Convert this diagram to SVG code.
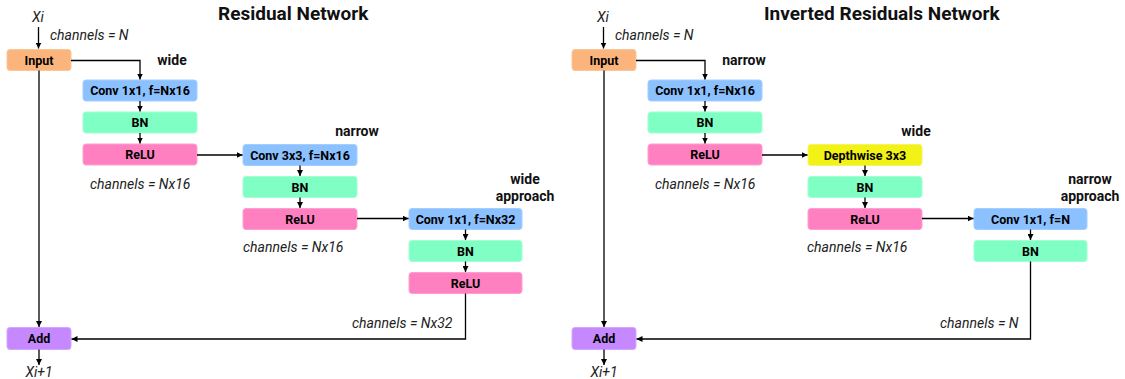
<svg xmlns="http://www.w3.org/2000/svg" width="1125" height="379" viewBox="0 0 1125 379">
  <defs>
    <marker id="arrow" viewBox="0 0 10 10" refX="10" refY="5" markerWidth="6" markerHeight="6" markerUnits="userSpaceOnUse" orient="auto">
      <path d="M0,0 L10,5 L0,10 z" fill="#000"/>
    </marker>
    <style>
      .box { stroke-width: 1; }
      .input { fill: #FBB57C; stroke: #F9C79A; }
      .conv { fill: #8BC1FF; stroke: #A3CEFF; }
      .bn { fill: #80FFC4; stroke: #A0FFD3; }
      .relu { fill: #FF80C0; stroke: #FF9FCF; }
      .dw { fill: #F2F216; stroke: #F5F560; }
      .add { fill: #C588FF; stroke: #D4A6FF; }
      .lbl { font-family: Roboto, "Liberation Sans", sans-serif; font-weight: bold; font-size: 12.5px; fill: #000; text-anchor: middle; }
      .note { font-family: Roboto, "Liberation Sans", sans-serif; font-style: italic; font-size: 14px; fill: #222; }
      .tag { font-family: Roboto, "Liberation Sans", sans-serif; font-weight: bold; font-size: 14px; fill: #111; text-anchor: middle; }
      .title { font-family: Roboto, "Liberation Sans", sans-serif; font-weight: bold; font-size: 19px; fill: #111; }
      .wire { fill: none; stroke: #000; stroke-width: 1.3; marker-end: url(#arrow); }
    </style>
  </defs>
  <rect width="1125" height="379" fill="#fff"/>

  <!-- Residual Network -->
  <text class="title" x="218" y="20">Residual Network</text>
  <text class="note" x="38" y="22" text-anchor="middle">Xi</text>
  <text class="note" x="50" y="40">channels = N</text>
  <text class="tag" x="172" y="65">wide</text>
  <text class="note" x="90" y="189">channels = Nx16</text>
  <text class="tag" x="357" y="136">narrow</text>
  <text class="note" x="243" y="252">channels = Nx16</text>
  <text class="tag" x="525" y="184">wide</text>
  <text class="tag" x="525" y="201">approach</text>
  <text class="note" x="352" y="328">channels = Nx32</text>
  <text class="note" x="39" y="377" text-anchor="middle">Xi+1</text>

  <g id="res-input"><rect class="box input" x="7" y="49.5" width="64" height="21" rx="3"/><text class="lbl" x="39" y="64.5">Input</text></g>
  <g id="res-conv1"><rect class="box conv" x="83" y="80" width="114" height="21" rx="3"/><text class="lbl" x="140" y="95">Conv 1x1, f=Nx16</text></g>
  <g id="res-bn1"><rect class="box bn" x="83" y="112" width="114" height="21" rx="3"/><text class="lbl" x="140" y="127">BN</text></g>
  <g id="res-relu1"><rect class="box relu" x="83" y="144" width="114" height="21" rx="3"/><text class="lbl" x="140" y="159">ReLU</text></g>
  <g id="res-conv2"><rect class="box conv" x="243" y="144.5" width="114" height="21" rx="3"/><text class="lbl" x="300" y="159.5">Conv 3x3, f=Nx16</text></g>
  <g id="res-bn2"><rect class="box bn" x="243" y="176.5" width="114" height="21" rx="3"/><text class="lbl" x="300" y="191.5">BN</text></g>
  <g id="res-relu2"><rect class="box relu" x="243" y="208.5" width="114" height="21" rx="3"/><text class="lbl" x="300" y="223.5">ReLU</text></g>
  <g id="res-conv3"><rect class="box conv" x="409" y="208.5" width="113" height="21" rx="3"/><text class="lbl" x="465.5" y="223.5">Conv 1x1, f=Nx32</text></g>
  <g id="res-bn3"><rect class="box bn" x="409" y="240.5" width="113" height="21" rx="3"/><text class="lbl" x="465.5" y="255.5">BN</text></g>
  <g id="res-relu3"><rect class="box relu" x="409" y="272.5" width="113" height="21" rx="3"/><text class="lbl" x="465.5" y="287.5">ReLU</text></g>
  <g id="res-add"><rect class="box add" x="7" y="327.5" width="64" height="22" rx="3"/><text class="lbl" x="39" y="343">Add</text></g>

  <!-- Inverted Residuals Network -->
  <text class="title" x="764" y="20">Inverted Residuals Network</text>
  <text class="note" x="603" y="22" text-anchor="middle">Xi</text>
  <text class="note" x="615" y="40">channels = N</text>
  <text class="tag" x="744" y="65">narrow</text>
  <text class="note" x="655" y="189">channels = Nx16</text>
  <text class="tag" x="916" y="136">wide</text>
  <text class="note" x="807" y="252">channels = Nx16</text>
  <text class="tag" x="1090" y="184">narrow</text>
  <text class="tag" x="1090" y="201">approach</text>
  <text class="note" x="940" y="328">channels = N</text>
  <text class="note" x="604" y="377" text-anchor="middle">Xi+1</text>

  <g id="inv-input"><rect class="box input" x="572" y="49.5" width="64" height="21" rx="3"/><text class="lbl" x="604" y="64.5">Input</text></g>
  <g id="inv-conv1"><rect class="box conv" x="648" y="80" width="114" height="21" rx="3"/><text class="lbl" x="705" y="95">Conv 1x1, f=Nx16</text></g>
  <g id="inv-bn1"><rect class="box bn" x="648" y="112" width="114" height="21" rx="3"/><text class="lbl" x="705" y="127">BN</text></g>
  <g id="inv-relu1"><rect class="box relu" x="648" y="144" width="114" height="21" rx="3"/><text class="lbl" x="705" y="159">ReLU</text></g>
  <g id="inv-dw"><rect class="box dw" x="808" y="144.5" width="114" height="21" rx="3"/><text class="lbl" x="865" y="159.5">Depthwise 3x3</text></g>
  <g id="inv-bn2"><rect class="box bn" x="808" y="176.5" width="114" height="21" rx="3"/><text class="lbl" x="865" y="191.5">BN</text></g>
  <g id="inv-relu2"><rect class="box relu" x="808" y="208.5" width="114" height="21" rx="3"/><text class="lbl" x="865" y="223.5">ReLU</text></g>
  <g id="inv-conv3"><rect class="box conv" x="974" y="208.5" width="113" height="21" rx="3"/><text class="lbl" x="1030.5" y="223.5">Conv 1x1, f=N</text></g>
  <g id="inv-bn3"><rect class="box bn" x="974" y="240.5" width="113" height="21" rx="3"/><text class="lbl" x="1030.5" y="255.5">BN</text></g>
  <g id="inv-add"><rect class="box add" x="572" y="327.5" width="64" height="22" rx="3"/><text class="lbl" x="604" y="343">Add</text></g>

  <!-- connectors -->
  <g id="connectors">
    <path class="wire" d="M38.5,27 V48.5"/>
    <path class="wire" d="M71,60.5 H140 V79.5"/>
    <path class="wire" d="M140,101 V111.5"/>
    <path class="wire" d="M140,133 V143.5"/>
    <path class="wire" d="M197,155 H242.5"/>
    <path class="wire" d="M300,165.5 V176"/>
    <path class="wire" d="M300,197.5 V208"/>
    <path class="wire" d="M357,218.5 H408.5"/>
    <path class="wire" d="M465.5,229.5 V240"/>
    <path class="wire" d="M465.5,261.5 V272"/>
    <path class="wire" d="M39,70.5 V327"/>
    <path class="wire" d="M465.5,293.5 V339 H71.5"/>
    <path class="wire" d="M39,349.5 V365"/>

    <path class="wire" d="M603.5,27 V48.5"/>
    <path class="wire" d="M636,60.5 H705 V79.5"/>
    <path class="wire" d="M705,101 V111.5"/>
    <path class="wire" d="M705,133 V143.5"/>
    <path class="wire" d="M762,155 H807.5"/>
    <path class="wire" d="M865,165.5 V176"/>
    <path class="wire" d="M865,197.5 V208"/>
    <path class="wire" d="M922,218.5 H973.5"/>
    <path class="wire" d="M1030.5,229.5 V240"/>
    <path class="wire" d="M604,70.5 V327"/>
    <path class="wire" d="M1030.5,261.5 V339 H636.5"/>
    <path class="wire" d="M604,349.5 V365"/>
  </g>
</svg>
